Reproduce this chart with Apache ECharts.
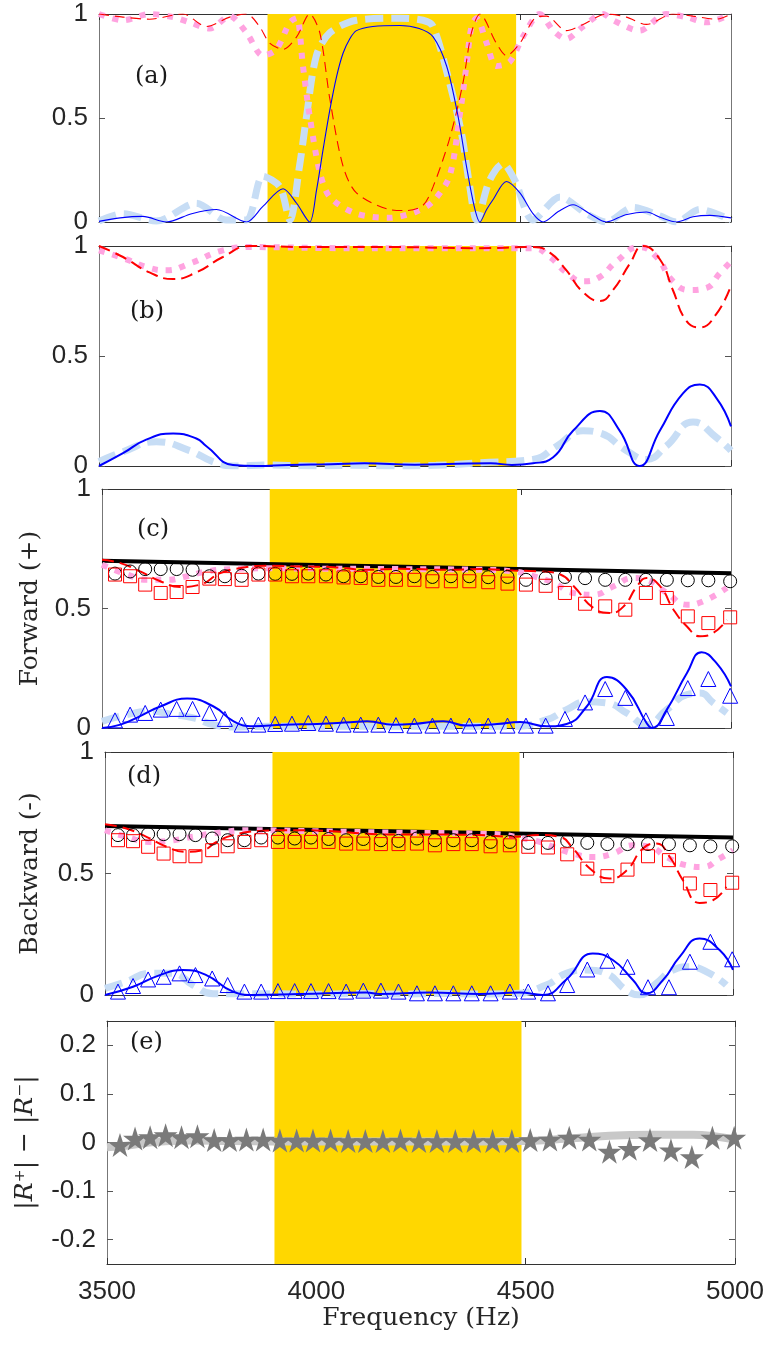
<!DOCTYPE html>
<html>
<head>
<meta charset="utf-8">
<script src="https://cdn.jsdelivr.net/npm/echarts@6/dist/echarts.min.js"></script>
<style>
  html, body { margin: 0; padding: 0; background: #fff; }
  #chart { width: 780px; height: 1346px; }
</style>
</head>
<body>
<div id="chart"></div>
<script>
// band gap region (Hz)
const bandStart = 3900;
const bandEnd = 4490;

// measurement frequencies (markers in c, d, e)
const markerFreq = [3531, 3567, 3603, 3640, 3678, 3716, 3756, 3793, 3833, 3873, 3913, 3953, 3992, 4034, 4076, 4117, 4159,
  4201, 4245, 4288, 4332, 4376, 4421, 4467, 4511, 4558, 4604, 4652, 4700, 4748, 4797, 4847, 4897, 4946, 4998];

// ---- panel (a) ----
const aBlue = [[3500, 0.003], [3550, 0.02], [3604, 0.027], [3660, 0.0], [3720, 0.04], [3779, 0.06], [3850, 0.0], [3889, 0.075],
  [3937, 0.16], [3969, 0.09], [4000, 0.0], [4016, 0.15], [4032, 0.35], [4048, 0.54], [4064, 0.7], [4079, 0.81], [4095, 0.88],
  [4111, 0.92], [4150, 0.94], [4214, 0.945], [4260, 0.93], [4293, 0.89], [4325, 0.75], [4352, 0.51], [4372, 0.27], [4390, 0.08],
  [4404, 0.0], [4420, 0.06], [4435, 0.107], [4467, 0.195], [4499, 0.14], [4530, 0.04], [4554, 0.0], [4590, 0.05], [4625, 0.083],
  [4665, 0.04], [4704, 0.0], [4750, 0.035], [4799, 0.048], [4835, 0.02], [4870, 0.0], [4910, 0.025], [4950, 0.032], [5000, 0.02]];
const aLight = [[3500, 0.005], [3557, 0.04], [3636, 0.005], [3731, 0.09], [3802, 0.01], [3850, 0.01], [3889, 0.22], [3929, 0.17],
  [3953, 0.01], [3976, 0.27], [3992, 0.5], [4016, 0.8], [4048, 0.91], [4111, 0.97], [4214, 0.98], [4269, 0.97], [4293, 0.94],
  [4332, 0.67], [4360, 0.43], [4380, 0.17], [4396, 0.01], [4427, 0.2], [4459, 0.28], [4487, 0.2], [4530, 0.01], [4594, 0.12],
  [4657, 0.04], [4704, 0.0], [4768, 0.07], [4831, 0.03], [4870, 0.0], [4926, 0.06], [5000, 0.01]];
const aRed = [[3500, 1.0], [3557, 0.985], [3620, 0.975], [3699, 1.0], [3755, 0.94], [3810, 0.985], [3850, 1.0], [3881, 0.94],
  [3905, 0.86], [3937, 0.83], [3969, 0.89], [4000, 1.0], [4024, 0.91], [4048, 0.59], [4079, 0.27], [4111, 0.14], [4190, 0.06],
  [4230, 0.055], [4269, 0.08], [4293, 0.17], [4332, 0.4], [4364, 0.67], [4384, 0.91], [4404, 1.0], [4443, 0.86], [4467, 0.8],
  [4499, 0.86], [4538, 0.985], [4562, 0.99], [4609, 0.92], [4649, 0.95], [4704, 1.0], [4752, 0.985], [4799, 0.95], [4862, 1.0],
  [4910, 0.99], [4965, 0.975], [5000, 1.0]];
const aPink = [[3500, 1.0], [3557, 0.97], [3620, 1.0], [3676, 0.985], [3715, 0.96], [3763, 0.93], [3810, 0.99], [3850, 0.91],
  [3889, 0.8], [3921, 0.83], [3953, 0.96], [3969, 0.98], [3984, 0.75], [4000, 0.51], [4024, 0.24], [4048, 0.12], [4111, 0.04],
  [4190, 0.02], [4253, 0.05], [4293, 0.1], [4332, 0.22], [4356, 0.51], [4372, 0.75], [4384, 0.94], [4396, 0.98], [4420, 0.86],
  [4443, 0.75], [4475, 0.77], [4506, 0.89], [4546, 1.0], [4578, 0.92], [4609, 0.88], [4649, 0.94], [4696, 1.0], [4720, 0.97],
  [4783, 0.92], [4846, 1.0], [4894, 0.985], [4942, 0.96], [5000, 1.0]];

// ---- panel (b) ----
const bBlue = [[3500, 0.0], [3557, 0.058], [3612, 0.12], [3676, 0.148], [3731, 0.125], [3755, 0.09], [3818, 0.005], [3873, 0.0],
  [3950, 0.005], [4050, 0.008], [4130, 0.012], [4250, 0.006], [4350, 0.01], [4430, 0.012], [4480, 0.005], [4530, 0.012],
  [4578, 0.04], [4625, 0.16], [4689, 0.25], [4736, 0.16], [4783, 0.0], [4831, 0.16], [4886, 0.33], [4926, 0.37], [4965, 0.31],
  [5000, 0.18]];
const bLight = [[3500, 0.02], [3557, 0.065], [3636, 0.11], [3715, 0.07], [3770, 0.02], [3818, 0.0], [3900, 0.005], [4000, 0.0],
  [4100, 0.003], [4200, 0.0], [4300, 0.003], [4404, 0.015], [4530, 0.03], [4586, 0.09], [4649, 0.16], [4689, 0.15], [4752, 0.07],
  [4799, 0.03], [4846, 0.09], [4910, 0.2], [4965, 0.13], [5000, 0.07]];
const bRed = [[3500, 1.0], [3557, 0.95], [3620, 0.88], [3676, 0.85], [3731, 0.88], [3794, 0.95], [3858, 1.0], [4000, 0.995],
  [4200, 0.995], [4400, 0.99], [4530, 0.995], [4570, 0.97], [4609, 0.89], [4649, 0.79], [4689, 0.75], [4720, 0.8], [4760, 0.92],
  [4791, 1.0], [4831, 0.94], [4862, 0.8], [4894, 0.66], [4926, 0.63], [4965, 0.69], [5000, 0.82]];
const bPink = [[3500, 0.98], [3557, 0.945], [3620, 0.9], [3660, 0.89], [3715, 0.92], [3794, 0.98], [3858, 0.995], [4100, 0.99],
  [4300, 0.99], [4530, 0.99], [4570, 0.95], [4609, 0.88], [4649, 0.84], [4689, 0.86], [4728, 0.93], [4783, 0.995], [4823, 0.95],
  [4862, 0.84], [4902, 0.8], [4942, 0.81], [4973, 0.875], [5000, 0.93]];

// ---- panel (c) forward ----
const cBlack = [[3500, 0.70], [5000, 0.648]];
const cBlue = [[3500, 0.0], [3544, 0.014], [3591, 0.05], [3639, 0.09], [3703, 0.123], [3766, 0.09], [3814, 0.028], [3861, 0.007],
  [3933, 0.014], [4013, 0.017], [4092, 0.024], [4132, 0.028], [4195, 0.014], [4243, 0.017], [4314, 0.028], [4370, 0.01],
  [4442, 0.017], [4497, 0.025], [4561, 0.007], [4608, 0.017], [4656, 0.09], [4704, 0.213], [4751, 0.16], [4799, 0.02],
  [4811, 0.0], [4847, 0.077], [4895, 0.23], [4930, 0.317], [4966, 0.27], [5000, 0.174]];
const cLight = [[3500, 0.028], [3560, 0.056], [3615, 0.07], [3671, 0.056], [3718, 0.042], [3766, 0.014], [3814, 0.004],
  [3900, 0.007], [4000, 0.007], [4100, 0.007], [4200, 0.007], [4300, 0.007], [4400, 0.007], [4480, 0.007], [4561, 0.035],
  [4608, 0.077], [4656, 0.11], [4704, 0.105], [4751, 0.063], [4799, 0.014], [4847, 0.077], [4895, 0.14], [4926, 0.146],
  [4958, 0.105], [4990, 0.063]];
const cRed = [[3500, 0.704], [3544, 0.69], [3591, 0.655], [3639, 0.614], [3687, 0.59], [3734, 0.6], [3782, 0.648], [3830, 0.669],
  [3893, 0.679], [3973, 0.676], [4052, 0.673], [4132, 0.662], [4211, 0.666], [4322, 0.662], [4402, 0.665], [4481, 0.659],
  [4545, 0.655], [4593, 0.642], [4625, 0.593], [4672, 0.502], [4712, 0.481], [4744, 0.509], [4776, 0.593], [4799, 0.628],
  [4831, 0.593], [4863, 0.495], [4895, 0.425], [4926, 0.384], [4958, 0.398], [4990, 0.453]];
const cPink = [[3500, 0.683], [3560, 0.642], [3607, 0.62], [3655, 0.62], [3703, 0.635], [3750, 0.655], [3814, 0.665],
  [3893, 0.668], [4000, 0.667], [4200, 0.665], [4400, 0.662], [4481, 0.655], [4529, 0.635], [4577, 0.607], [4625, 0.565],
  [4672, 0.558], [4720, 0.593], [4767, 0.628], [4799, 0.62], [4847, 0.565], [4895, 0.516], [4934, 0.53], [4990, 0.586]];
const cCircles = [0.646, 0.655, 0.665, 0.665, 0.665, 0.662, 0.635, 0.635, 0.637, 0.646, 0.645, 0.645, 0.646, 0.642, 0.635,
  0.635, 0.632, 0.632, 0.635, 0.632, 0.635, 0.635, 0.631, 0.632, 0.62, 0.627, 0.632, 0.627, 0.62, 0.62, 0.62, 0.62, 0.618,
  0.618, 0.614];
const cSquares = [0.642, 0.635, 0.6, 0.565, 0.569, 0.59, 0.625, 0.623, 0.62, 0.642, 0.642, 0.635, 0.635, 0.635, 0.63, 0.628,
  0.62, 0.62, 0.62, 0.614, 0.614, 0.614, 0.61, 0.604, 0.6, 0.595, 0.565, 0.52, 0.509, 0.495, 0.565, 0.544, 0.467, 0.439, 0.463];
const cTriangles = [0.032, 0.056, 0.063, 0.077, 0.08, 0.08, 0.063, 0.038, 0.014, 0.014, 0.017, 0.018, 0.021, 0.018, 0.014,
  0.014, 0.014, 0.012, 0.01, 0.01, 0.01, 0.01, 0.01, 0.01, 0.01, 0.01, 0.038, 0.107, 0.163, 0.126, 0.032, 0.042, 0.167, 0.205,
  0.135];

// ---- panel (d) backward ----
const dBlack = [[3500, 0.695], [5000, 0.648]];
const dBlue = [[3500, 0.0], [3567, 0.034], [3631, 0.082], [3686, 0.103], [3742, 0.082], [3806, 0.014], [3853, 0.0], [3965, 0.004],
  [4124, 0.01], [4156, 0.004], [4275, 0.01], [4395, 0.004], [4490, 0.01], [4546, 0.0], [4602, 0.064], [4665, 0.171],
  [4713, 0.144], [4761, 0.062], [4793, 0.007], [4833, 0.062], [4873, 0.158], [4920, 0.233], [4968, 0.185], [5000, 0.103]];
const dLight = [[3500, 0.027], [3551, 0.055], [3607, 0.089], [3662, 0.089], [3710, 0.041], [3758, 0.005], [3806, 0.005],
  [3900, 0.005], [4000, 0.003], [4100, 0.006], [4200, 0.004], [4300, 0.006], [4400, 0.004], [4480, 0.006], [4554, 0.041],
  [4602, 0.089], [4650, 0.103], [4697, 0.089], [4745, 0.02], [4777, 0.0], [4817, 0.048], [4857, 0.103], [4896, 0.116],
  [4944, 0.089], [4984, 0.041]];
const dRed = [[3500, 0.703], [3551, 0.685], [3599, 0.651], [3647, 0.61], [3694, 0.589], [3734, 0.596], [3766, 0.63],
  [3806, 0.658], [3869, 0.675], [3949, 0.678], [4044, 0.674], [4124, 0.664], [4203, 0.66], [4315, 0.66], [4395, 0.658],
  [4474, 0.651], [4538, 0.658], [4586, 0.651], [4618, 0.603], [4658, 0.521], [4705, 0.479], [4745, 0.511], [4785, 0.603],
  [4817, 0.623], [4849, 0.568], [4880, 0.473], [4920, 0.379], [4952, 0.39], [4984, 0.445]];
const dPink = [[3500, 0.678], [3551, 0.651], [3607, 0.63], [3662, 0.637], [3710, 0.651], [3766, 0.667], [3845, 0.678],
  [4000, 0.674], [4200, 0.668], [4400, 0.664], [4522, 0.637], [4570, 0.61], [4618, 0.582], [4665, 0.568], [4713, 0.582],
  [4761, 0.616], [4801, 0.61], [4841, 0.568], [4888, 0.534], [4928, 0.527], [4968, 0.562], [5000, 0.596]];
const dCircles = [0.658, 0.658, 0.662, 0.662, 0.662, 0.658, 0.644, 0.637, 0.637, 0.648, 0.648, 0.644, 0.648, 0.642, 0.637,
  0.642, 0.637, 0.634, 0.644, 0.637, 0.637, 0.637, 0.63, 0.63, 0.626, 0.626, 0.634, 0.626, 0.621, 0.621, 0.621, 0.621, 0.616,
  0.612, 0.612];
const dSquares = [0.637, 0.633, 0.61, 0.582, 0.571, 0.571, 0.596, 0.612, 0.63, 0.637, 0.63, 0.63, 0.63, 0.63, 0.623, 0.623,
  0.621, 0.621, 0.623, 0.616, 0.621, 0.621, 0.612, 0.616, 0.61, 0.607, 0.579, 0.52, 0.489, 0.516, 0.571, 0.555, 0.459, 0.432,
  0.462];
const dTriangles = [0.014, 0.037, 0.064, 0.075, 0.089, 0.082, 0.068, 0.041, 0.014, 0.014, 0.016, 0.016, 0.016, 0.016, 0.014,
  0.018, 0.018, 0.014, 0.007, 0.007, 0.007, 0.007, 0.007, 0.014, 0.014, 0.007, 0.041, 0.105, 0.141, 0.116, 0.032, 0.032,
  0.137, 0.219, 0.147];

// ---- panel (e) difference ----
const eLine = [[3500, -0.01], [3550, -0.006], [3600, 0.0], [3650, 0.003], [3700, 0.004], [3800, 0.003], [4000, 0.002],
  [4200, 0.002], [4400, 0.002], [4500, 0.003], [4600, 0.008], [4700, 0.014], [4800, 0.016], [4900, 0.016], [4950, 0.013],
  [5000, 0.006]];
const eStars = [-0.005, 0.008, 0.011, 0.015, 0.011, 0.013, 0.005, 0.005, 0.006, 0.006, 0.004, 0.004, 0.004, 0.004, 0.003,
  0.003, 0.003, 0.004, 0.003, 0.003, 0.003, 0.003, 0.003, 0.003, 0.005, 0.006, 0.01, 0.006, -0.019, -0.013, 0.005, -0.016,
  -0.03, 0.01, 0.01];

const yTicksAD = [0, 0.5, 1];
const yTicksE = [-0.2, -0.1, 0, 0.1, 0.2];
const panelLabels = ["(a)", "(b)", "(c)", "(d)", "(e)"];

const BLUE = "#0000ff";
const LIGHT = "#c7ddf5";
const RED = "#ff0000";
const PINK = "#ffa3e0";
const GOLD = "#ffd700";
const STAR = "path://M50,0 L61.8,36.2 L100,36.2 L69.1,58.8 L80.9,95.1 L50,72.7 L19.1,95.1 L30.9,58.8 L0,36.2 L38.2,36.2 Z";

const serif = "DejaVu Serif";
const sans = "Liberation Sans";

const grids = [
  { left: 99, top: 14, width: 632, height: 208 },
  { left: 99, top: 246, width: 632, height: 220 },
  { left: 102, top: 489, width: 629, height: 239 },
  { left: 105, top: 752, width: 628, height: 243 },
  { left: 107, top: 1021, width: 628, height: 243 },
];

const xAxes = [];
const yAxes = [];
grids.forEach((g, i) => {
  ["bottom", "top"].forEach((pos) => {
    xAxes.push({
      type: "value",
      gridIndex: i,
      position: pos,
      min: 3500,
      max: 5000,
      interval: 500,
      axisLine: { show: true, onZero: false, lineStyle: { color: "#333", width: 1 } },
      axisTick: { show: true, inside: true, length: 6, lineStyle: { color: "#333" } },
      axisLabel: {
        show: pos === "bottom" && i === 4,
        formatter: (v) => String(v),
        fontFamily: sans,
        fontSize: 26,
        color: "#262626",
        margin: 15,
      },
      splitLine: { show: false },
      name: pos === "bottom" && i === 4 ? "Frequency (Hz)" : "",
      nameLocation: "middle",
      nameGap: 42,
      nameTextStyle: { fontFamily: serif, fontSize: 25, color: "#262626" },
    });
  });
  ["left", "right"].forEach((pos) => {
    const isE = i === 4;
    let name = "";
    let nameGap = 60;
    if (pos === "left" && i === 2) { name = "Forward (+)"; nameGap = 59; }
    if (pos === "left" && i === 3) { name = "Backward (-)"; nameGap = 62; }
    if (pos === "left" && i === 4) { name = "|{i|R}⁺| − |{i|R}⁻|"; nameGap = 69; }
    yAxes.push({
      type: "value",
      gridIndex: i,
      position: pos,
      min: isE ? -0.25 : 0,
      max: isE ? 0.25 : 1,
      axisLine: { show: true, onZero: false, lineStyle: { color: "#777", width: 1 } },
      axisTick: { show: true, inside: true, length: 6, customValues: isE ? yTicksE : yTicksAD, lineStyle: { color: "#555" } },
      axisLabel: {
        show: pos === "left",
        customValues: isE ? yTicksE : yTicksAD,
        fontFamily: sans,
        fontSize: 26,
        color: "#262626",
        margin: 11,
      },
      splitLine: { show: false },
      name: name,
      nameLocation: "middle",
      nameRotate: 90,
      nameGap: nameGap,
      nameTextStyle: {
        fontFamily: serif,
        fontSize: 25,
        color: "#262626",
        rich: { i: { fontFamily: serif, fontStyle: "italic", fontSize: 25, color: "#262626" } },
      },
    });
  });
});

const series = [];
const line = (i, data, color, width, type, z) => {
  series.push({
    type: "line",
    xAxisIndex: 2 * i,
    yAxisIndex: 2 * i,
    data: data,
    showSymbol: false,
    smooth: i === 0 ? 0.3 : 0.5,
    lineStyle: { color: color, width: width, type: type, cap: "butt" },
    z: z,
    silent: true,
    animation: false,
  });
};
const marks = (i, values, symbol, size, color, fill, z) => {
  series.push({
    type: "scatter",
    xAxisIndex: 2 * i,
    yAxisIndex: 2 * i,
    data: markerFreq.map((f, k) => [f, values[k]]),
    symbol: symbol,
    symbolSize: size,
    itemStyle: { color: fill, borderColor: color, borderWidth: fill === "transparent" ? 1 : 0, opacity: 1 },
    z: z,
    silent: true,
    animation: false,
  });
};

// yellow band in every panel
grids.forEach((g, i) => {
  series.push({
    type: "line",
    xAxisIndex: 2 * i,
    yAxisIndex: 2 * i,
    data: [],
    z: 1,
    silent: true,
    markArea: {
      silent: true,
      itemStyle: { color: GOLD },
      data: [[{ xAxis: bandStart }, { xAxis: bandEnd }]],
    },
  });
});

// (a)
line(0, aLight, LIGHT, 7, [18, 8], 3);
line(0, aPink, PINK, 6, [6, 8], 4);
line(0, aRed, RED, 1.1, [10, 6], 5);
line(0, aBlue, BLUE, 1.1, "solid", 6);
// (b)
line(1, bLight, LIGHT, 7, [18, 8], 3);
line(1, bPink, PINK, 6, [6, 8], 4);
line(1, bRed, RED, 2, [12, 6], 5);
line(1, bBlue, BLUE, 2, "solid", 6);
// (c)
line(2, cBlack, "#000", 4, "solid", 3);
line(2, cLight, LIGHT, 7, [18, 8], 3);
line(2, cPink, PINK, 6, [6, 8], 4);
line(2, cRed, RED, 2, [12, 6], 5);
line(2, cBlue, BLUE, 2, "solid", 6);
marks(2, cCircles, "circle", 13, "#000", "transparent", 7);
marks(2, cSquares, "rect", 13, RED, "transparent", 7);
marks(2, cTriangles, "triangle", 15, BLUE, "transparent", 7);
// (d)
line(3, dBlack, "#000", 4, "solid", 3);
line(3, dLight, LIGHT, 7, [18, 8], 3);
line(3, dPink, PINK, 6, [6, 8], 4);
line(3, dRed, RED, 2, [12, 6], 5);
line(3, dBlue, BLUE, 2, "solid", 6);
marks(3, dCircles, "circle", 13, "#000", "transparent", 7);
marks(3, dSquares, "rect", 13, RED, "transparent", 7);
marks(3, dTriangles, "triangle", 15, BLUE, "transparent", 7);
// (e)
line(4, eLine, "#c8c8c8", 8, "solid", 3);
marks(4, eStars, STAR, 24, "#7a7a7a", "#7a7a7a", 7);

const labelPos = [[135, 65], [130, 300], [137, 518], [127, 765], [130, 1031]];
const graphic = panelLabels.map((t, i) => ({
  type: "text",
  left: labelPos[i][0],
  top: labelPos[i][1],
  z: 100,
  style: { text: t, fontFamily: serif, fontSize: 24, fill: "#1a1a1a" },
}));

const chart = echarts.init(document.getElementById("chart"));
chart.setOption({
  backgroundColor: "#fff",
  animation: false,
  grid: grids.map((g) => Object.assign({ containLabel: false }, g)),
  xAxis: xAxes,
  yAxis: yAxes,
  series: series,
  graphic: graphic,
});
</script>
</body>
</html>
